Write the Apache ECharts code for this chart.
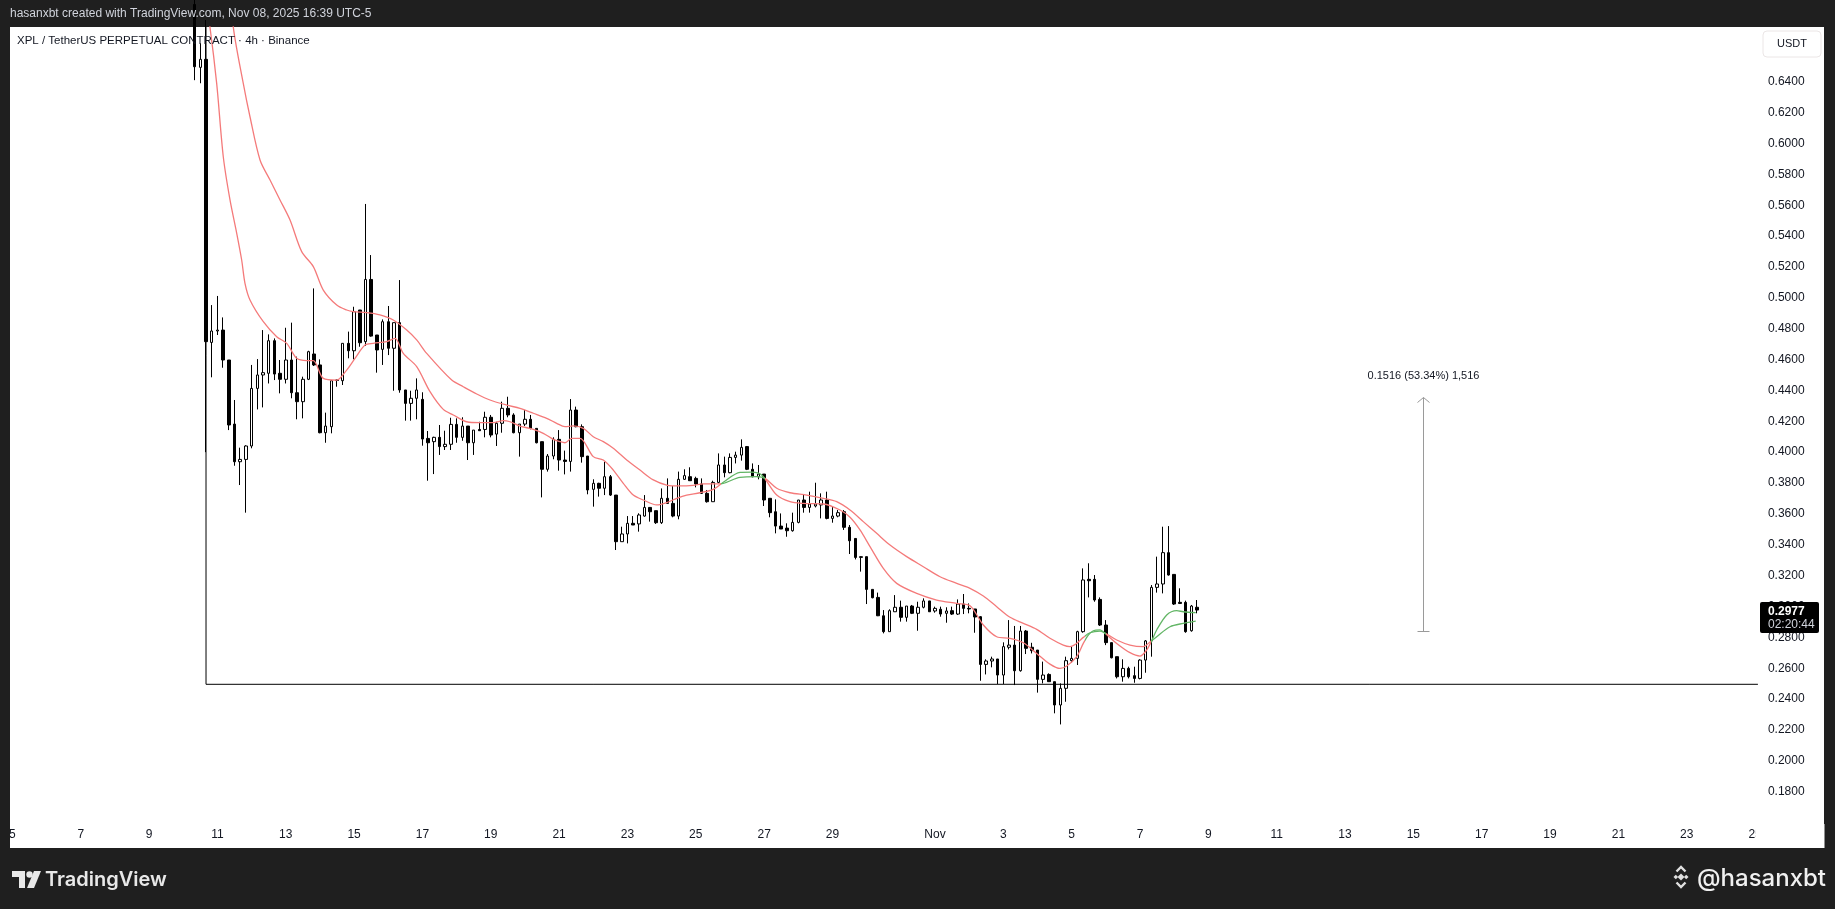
<!DOCTYPE html>
<html><head><meta charset="utf-8">
<script src="https://cdn.jsdelivr.net/npm/echarts@6/dist/echarts.min.js"></script>
<style>html,body{margin:0;padding:0;background:#1f1f1f;overflow:hidden}#c{width:1835px;height:909px}</style>
</head><body><div id="c"></div>
<script>
// ---- data ----
const firstSlot = 32;            // 4h slot index of the first visible candle (slot 0 = "Oct 5")
const opens = [0.6900,0.6493,0.6545,0.4711,0.4785,0.4791,0.4597,0.4182,0.3938,0.3953,0.4040,0.4413,0.4500,0.4511,0.4722,0.4511,0.4472,0.4597,0.4385,0.4327,0.4472,0.4636,0.4565,0.4126,0.4165,0.4467,0.4463,0.4705,0.4657,0.4921,0.4716,0.5119,0.4759,0.4666,0.4845,0.4673,0.4839,0.4403,0.4316,0.4349,0.4342,0.4089,0.4068,0.4096,0.4036,0.4051,0.4180,0.4096,0.4169,0.4061,0.4147,0.4147,0.4226,0.4117,0.4187,0.4284,0.4241,0.4126,0.4182,0.4213,0.4154,0.4068,0.3889,0.3975,0.4083,0.3949,0.3940,0.4273,0.4165,0.3975,0.3759,0.3798,0.3766,0.3841,0.3722,0.3420,0.3470,0.3539,0.3535,0.3586,0.3642,0.3621,0.3543,0.3701,0.3668,0.3586,0.3824,0.3841,0.3830,0.3794,0.3733,0.3679,0.3804,0.3917,0.3867,0.3966,0.3981,0.4036,0.3889,0.3841,0.3858,0.3701,0.3614,0.3521,0.3508,0.3491,0.3545,0.3690,0.3642,0.3651,0.3658,0.3690,0.3571,0.3586,0.3614,0.3513,0.3441,0.3318,0.3323,0.3111,0.3059,0.2940,0.2837,0.2966,0.2995,0.2930,0.3003,0.2956,0.2995,0.3036,0.2971,0.2982,0.2956,0.2973,0.2951,0.3016,0.2988,0.2984,0.2934,0.2625,0.2647,0.2660,0.2556,0.2736,0.2750,0.2584,0.2841,0.2736,0.2718,0.2528,0.2560,0.2513,0.2362,0.2470,0.2649,0.2664,0.2837,0.3176,0.3176,0.3046,0.2880,0.2766,0.2675,0.2545,0.2599,0.2552,0.2534,0.2653,0.2777,0.3124,0.3146,0.3349,0.3208,0.3027,0.3027,0.2843,0.2995];
const highs = [0.7000,0.6649,0.6800,0.4953,0.5012,0.4873,0.4597,0.4338,0.4029,0.4045,0.4565,0.4603,0.4791,0.4763,0.4737,0.4597,0.4806,0.4839,0.4619,0.4489,0.4657,0.5061,0.4601,0.4256,0.4467,0.4470,0.4705,0.4781,0.4942,0.4921,0.5608,0.5277,0.4759,0.4860,0.4947,0.4839,0.5115,0.4403,0.4398,0.4478,0.4388,0.4137,0.4100,0.4176,0.4139,0.4223,0.4219,0.4226,0.4169,0.4143,0.4197,0.4262,0.4241,0.4197,0.4327,0.4359,0.4252,0.4182,0.4273,0.4241,0.4154,0.4068,0.3988,0.4096,0.4143,0.4010,0.4344,0.4295,0.4180,0.3975,0.3824,0.3802,0.3938,0.3852,0.3722,0.3517,0.3586,0.3586,0.3604,0.3722,0.3642,0.3621,0.3765,0.3830,0.3781,0.3874,0.3889,0.3902,0.3841,0.3830,0.3755,0.3815,0.3992,0.3971,0.3992,0.4003,0.4083,0.4040,0.3927,0.3917,0.3858,0.3701,0.3694,0.3603,0.3539,0.3608,0.3690,0.3729,0.3744,0.3802,0.3733,0.3744,0.3651,0.3625,0.3625,0.3528,0.3441,0.3325,0.3323,0.3111,0.3090,0.2977,0.2982,0.3074,0.3038,0.3003,0.3010,0.3031,0.3053,0.3036,0.2999,0.2999,0.2995,0.2999,0.3046,0.3081,0.3020,0.2984,0.2938,0.2658,0.2675,0.2660,0.2768,0.2912,0.2874,0.2874,0.2848,0.2765,0.2718,0.2643,0.2567,0.2513,0.2502,0.2675,0.2740,0.2843,0.3247,0.3280,0.3204,0.3059,0.2912,0.2766,0.2675,0.2658,0.2610,0.2610,0.2658,0.2783,0.3139,0.3323,0.3517,0.3521,0.3208,0.3118,0.3038,0.3010,0.3042];
const lows = [0.6410,0.6390,0.4000,0.4485,0.4759,0.4547,0.4143,0.3912,0.3787,0.3608,0.4025,0.4277,0.4290,0.4445,0.4467,0.4381,0.4445,0.4349,0.4213,0.4219,0.4467,0.4558,0.4122,0.4061,0.4122,0.4424,0.4435,0.4608,0.4601,0.4683,0.4688,0.4748,0.4515,0.4565,0.4629,0.4398,0.4385,0.4204,0.4204,0.4213,0.4042,0.3815,0.3858,0.3982,0.4014,0.4014,0.4061,0.4074,0.3949,0.3982,0.4139,0.4096,0.4096,0.4040,0.4126,0.4226,0.4122,0.3971,0.4169,0.4148,0.4057,0.3707,0.3874,0.3954,0.3880,0.3856,0.3874,0.4161,0.3932,0.3727,0.3647,0.3712,0.3722,0.3716,0.3366,0.3420,0.3409,0.3528,0.3485,0.3582,0.3550,0.3535,0.3535,0.3664,0.3578,0.3565,0.3820,0.3815,0.3772,0.3729,0.3673,0.3679,0.3798,0.3837,0.3863,0.3927,0.3945,0.3884,0.3837,0.3824,0.3651,0.3578,0.3474,0.3502,0.3452,0.3485,0.3539,0.3608,0.3608,0.3642,0.3571,0.3565,0.3543,0.3578,0.3496,0.3340,0.3305,0.3226,0.3016,0.3053,0.2938,0.2826,0.2837,0.2966,0.2902,0.2902,0.2951,0.2843,0.2988,0.2966,0.2960,0.2934,0.2895,0.2945,0.2945,0.2951,0.2956,0.2830,0.2519,0.2560,0.2606,0.2498,0.2498,0.2722,0.2491,0.2578,0.2692,0.2696,0.2442,0.2502,0.2513,0.2308,0.2236,0.2383,0.2636,0.2621,0.2830,0.3059,0.3031,0.2874,0.2750,0.2664,0.2534,0.2513,0.2534,0.2506,0.2528,0.2571,0.2675,0.3090,0.3085,0.3200,0.3010,0.3016,0.2830,0.2837,0.2956];
const closes = [0.6497,0.6545,0.4716,0.4785,0.4791,0.4597,0.4176,0.3938,0.3953,0.4040,0.4413,0.4500,0.4515,0.4722,0.4506,0.4472,0.4597,0.4385,0.4327,0.4472,0.4651,0.4565,0.4126,0.4169,0.4463,0.4465,0.4705,0.4657,0.4910,0.4709,0.5119,0.4752,0.4662,0.4845,0.4673,0.4839,0.4403,0.4316,0.4349,0.4403,0.4085,0.4061,0.4096,0.4036,0.4051,0.4180,0.4096,0.4169,0.4061,0.4143,0.4139,0.4226,0.4111,0.4187,0.4284,0.4241,0.4126,0.4182,0.4213,0.4154,0.4061,0.3889,0.3975,0.4083,0.3949,0.3940,0.4273,0.4165,0.3971,0.3755,0.3798,0.3766,0.3841,0.3722,0.3420,0.3470,0.3539,0.3528,0.3593,0.3642,0.3614,0.3543,0.3701,0.3668,0.3586,0.3824,0.3848,0.3815,0.3794,0.3733,0.3679,0.3804,0.3917,0.3867,0.3966,0.3981,0.4031,0.3889,0.3841,0.3858,0.3690,0.3608,0.3521,0.3502,0.3491,0.3545,0.3690,0.3642,0.3664,0.3664,0.3690,0.3571,0.3586,0.3608,0.3513,0.3426,0.3318,0.3323,0.3111,0.3057,0.2940,0.2837,0.2973,0.2995,0.2930,0.3003,0.2956,0.2995,0.3036,0.2966,0.2988,0.2951,0.2971,0.2951,0.3016,0.2988,0.2984,0.2932,0.2625,0.2647,0.2660,0.2556,0.2740,0.2750,0.2584,0.2841,0.2729,0.2714,0.2528,0.2556,0.2513,0.2362,0.2470,0.2649,0.2664,0.2837,0.3172,0.3167,0.3042,0.2880,0.2766,0.2668,0.2545,0.2599,0.2545,0.2534,0.2653,0.2777,0.3124,0.3146,0.3349,0.3204,0.3016,0.3020,0.2837,0.3003,0.2977];

// moving-average ribbon, read as [slot, price] points
const fastEma = [[33.64,0.700],[34.69,0.6754],[35.87,0.6389],[37.03,0.5914],[38.21,0.5634],[39.39,0.5418],[40.26,0.5245],[40.84,0.5094],[41.72,0.4986],[44.06,0.4845],[46.41,0.4748],[48.17,0.4705],[49.92,0.4608],[51.68,0.4593],[52.84,0.4593],[54.59,0.4478],[56.95,0.4467],[58.70,0.4532],[60.16,0.4608],[61.92,0.4694],[63.37,0.4705],[65.72,0.4716],[67.18,0.4737],[68.64,0.4640],[70.99,0.4554],[73.33,0.4392],[75.66,0.4277],[77.42,0.4241],[79.77,0.4197],[82.11,0.4191],[84.44,0.4191],[86.20,0.4204],[87.37,0.4197],[89.13,0.4169],[91.47,0.4148],[93.22,0.4122],[94.98,0.4083],[96.15,0.4068],[97.03,0.4061],[98.21,0.4089],[99.67,0.4089],[102.00,0.3971],[103.76,0.3949],[105.51,0.3884],[107.27,0.3798],[109.02,0.3722],[110.78,0.3690],[113.13,0.3658],[114.89,0.3673],[116.65,0.3701],[118.40,0.3722],[120.74,0.3737],[123.07,0.3759],[124.83,0.3805],[127.76,0.3869],[129.82,0.3871],[131.57,0.3852],[134.21,0.3722],[136.54,0.3679],[138.88,0.3668],[142.39,0.3664],[145.32,0.3625],[147.08,0.3578],[148.83,0.3496],[150.59,0.3388],[152.93,0.3247],[155.28,0.3150],[158.79,0.3085],[162.30,0.3042],[165.82,0.3020],[168.15,0.3005],[170.49,0.2880],[172.84,0.2804],[175.18,0.2794],[177.51,0.2765],[179.86,0.2696],[182.19,0.2627],[183.95,0.2599],[185.13,0.2614],[186.88,0.2675],[188.04,0.2761],[188.92,0.2815],[189.80,0.2843],[190.98,0.2848],[191.85,0.2826],[193.91,0.2761],[196.24,0.2701],[198.00,0.2679],[199.17,0.2718],[200.05,0.2779],[200.93,0.2848],[202.69,0.2945],[204.44,0.2973],[205.60,0.2966],[207.78,0.2960]];
const slowEma = [[37.86,0.720],[38.79,0.6754],[40.54,0.6389],[41.72,0.6173],[43.48,0.5893],[45.24,0.5763],[46.99,0.5634],[48.75,0.5504],[50.80,0.5299],[52.84,0.5202],[54.59,0.5050],[56.95,0.4953],[58.70,0.4921],[59.86,0.4910],[62.21,0.4904],[64.54,0.4889],[66.88,0.4856],[69.24,0.4791],[70.99,0.4727],[72.75,0.4640],[77.14,0.4467],[79.17,0.4424],[81.53,0.4377],[83.86,0.4338],[86.80,0.4305],[89.13,0.4284],[91.47,0.4252],[93.82,0.4219],[95.57,0.4187],[97.03,0.4165],[98.49,0.4170],[100.25,0.4154],[102.00,0.4100],[103.76,0.4068],[105.51,0.4025],[107.87,0.3949],[110.20,0.3884],[112.54,0.3820],[114.89,0.3787],[117.22,0.3781],[119.56,0.3785],[121.32,0.3794],[123.07,0.3794],[124.83,0.3798],[127.76,0.3837],[130.70,0.3841],[132.15,0.3830],[134.21,0.3766],[136.54,0.3737],[139.47,0.3722],[142.39,0.3701],[144.74,0.3679],[147.08,0.3625],[149.41,0.3550],[151.76,0.3474],[154.10,0.3398],[157.03,0.3323],[159.95,0.3258],[162.89,0.3193],[165.82,0.3150],[168.15,0.3118],[170.49,0.3068],[172.84,0.2999],[175.18,0.2930],[177.51,0.2891],[179.86,0.2852],[182.19,0.2794],[184.53,0.2750],[185.70,0.2740],[186.88,0.2761],[188.04,0.2800],[189.22,0.2830],[190.98,0.2840],[192.15,0.2822],[193.91,0.2783],[196.24,0.2750],[198.58,0.2740],[199.75,0.2770],[200.93,0.2804],[203.27,0.2869],[205.60,0.2891],[207.78,0.2906]];
const greenRanges = [[124.4,132.2],[188.4,192.1],[199.9,400]];   // slots where the fast line is above the slow one

const slotCount = 307;
const tickSlots  = [0,12,24,36,48,60,72,84,96,108,120,132,144,162,174,186,198,210,222,234,246,258,270,282,294,306];
const tickLabels = ['5','7','9','11','13','15','17','19','21','23','25','27','29','Nov','3','5','7','9','11','13','15','17','19','21','23','25'];

const levelLine = [[34,0.6760],[34,0.2496],[306.5,0.2496]];
const measure = [[247.75,0.2842,0.4358]];
const measureLabel = '0.1516 (53.34%) 1,516';
const lastPrice = 0.2977;
const countdown = '02:20:44';

// ---- chart ----
const FONT = '"Liberation Sans", Arial, sans-serif';
const RED = '#f47a7a', GREEN = '#62b565', INK = '#131722';
const chart = echarts.init(document.getElementById('c'), null, {renderer:'canvas'});
const categories = Array.from({length: slotCount}, (_, i) => String(i));

const pieces = [];
let prev = -10;
greenRanges.forEach(([a,b]) => { pieces.push({gte: prev, lt: a, color: RED}); pieces.push({gte: a, lt: b, color: GREEN}); prev = b; });

const gridLeft = 9.55, slotW = 5.695;
chart.setOption({
  animation: false,
  backgroundColor: '#1f1f1f',
  title: { text: 'XPL / TetherUS PERPETUAL CONTRACT · 4h · Binance', left: 17, top: 35, padding: 0,
    textStyle: { fontSize: 11.5, fontWeight: 'normal', color: INK, fontFamily: FONT } },
  grid: { left: gridLeft, top: 27, width: slotCount * slotW, height: 795.6, containLabel: false, outerBoundsMode: 'none' },
  xAxis: [
    { type: 'category', data: categories, boundaryGap: true,
      axisLine: {show:false}, axisTick: {show:false}, splitLine: {show:false},
      axisLabel: { interval: (idx) => tickSlots.indexOf(idx) >= 0,
        formatter: (v) => { const k = tickSlots.indexOf(Number(v)); return k >= 0 ? tickLabels[k] : ''; },
        margin: 6, fontSize: 12, color: INK, fontFamily: FONT, hideOverlap: false } },
    { type: 'value', min: -0.5, max: slotCount - 0.5, show: false }
  ],
  yAxis: { type: 'value', position: 'right', min: 0.16, max: 0.67545, interval: 0.02,
    axisLine: {show:false}, axisTick: {show:false}, splitLine: {show:false},
    axisLabel: { margin: 10, fontSize: 12, color: INK, fontFamily: FONT,
      formatter: (v) => (v > 0.17 && v < 0.65) ? v.toFixed(4) : '' } },
  visualMap: { type: 'piecewise', show: false, dimension: 0, seriesIndex: [1,2], pieces: pieces, outOfRange: {color: RED} },
  graphic: { elements: [
    { type:'rect', z:-10, shape:{x:10,y:27,width:1814,height:821}, style:{fill:'#ffffff'} },
    { type:'text', z:5, style:{x:10,y:14,text:'hasanxbt created with TradingView.com, Nov 08, 2025 16:39 UTC-5', fill:'#d1d4dc', fontSize:12, fontFamily:FONT, verticalAlign:'middle'} },
    { type:'rect', zlevel:1, z:100, shape:{x:1755.5,y:824,width:69,height:24}, style:{fill:'#ffffff'} },
    { type:'rect', zlevel:1, z:100, shape:{x:0,y:27,width:10,height:821}, style:{fill:'#1f1f1f'} },
    { type:'rect', z:100, shape:{x:1763,y:31,width:58,height:26,r:4}, style:{fill:'#ffffff', stroke:'#ebe6e6', lineWidth:1} },
    { type:'text', z:101, style:{x:1792,y:44,text:'USDT', fill:INK, fontSize:11, fontFamily:FONT, align:'center', verticalAlign:'middle'} },
    // footer: TradingView logo
    { type:'polygon', z:5, shape:{points:[[12,871],[25,871],[25,888],[19,888],[19,877],[12,877]]}, style:{fill:'#e8e8e8'} },
    { type:'circle', z:5, shape:{cx:29.5,cy:874.5,r:3.2}, style:{fill:'#e8e8e8'} },
    { type:'polygon', z:5, shape:{points:[[34,871],[41,871],[34,888],[27,888]]}, style:{fill:'#e8e8e8'} },
    { type:'text', z:5, style:{x:45,y:879.5,text:'TradingView', fill:'#e8e8e8', fontSize:20, fontWeight:600, fontFamily:'Inter, "Liberation Sans", sans-serif', verticalAlign:'middle'} },
    // footer: author
    { type:'polygon', z:5, shape:{points:[[1681,873.5],[1684.5,877],[1681,880.5],[1677.5,877]]}, style:{fill:'#e0e0e0'} },
    { type:'polygon', z:5, shape:{points:[[1673.5,877],[1675.8,874.7],[1678.1,877],[1675.8,879.3]]}, style:{fill:'#e0e0e0'} },
    { type:'polygon', z:5, shape:{points:[[1683.9,877],[1686.2,874.7],[1688.5,877],[1686.2,879.3]]}, style:{fill:'#e0e0e0'} },
    { type:'polyline', z:5, shape:{points:[[1676.5,871.5],[1681,867],[1685.5,871.5]]}, style:{stroke:'#e0e0e0', lineWidth:2.4, fill:null} },
    { type:'polyline', z:5, shape:{points:[[1676.5,882.5],[1681,887],[1685.5,882.5]]}, style:{stroke:'#e0e0e0', lineWidth:2.4, fill:null} },
    { type:'text', z:5, style:{x:1826,y:879,text:'@hasanxbt', fill:'#f0f0f0', fontSize:24, fontWeight:500, fontFamily:'Inter, "Liberation Sans", sans-serif', align:'right', verticalAlign:'middle'} }
  ]},
  series: [
    { type: 'candlestick', xAxisIndex: 0, barWidth: 3,
      data: opens.map((o, k) => [firstSlot + k, o, closes[k], lows[k], highs[k]]),
      encode: { x: 0, y: [1,2,3,4] },
      itemStyle: { color: '#ffffff', color0: '#000000', borderColor: '#000000', borderColor0: '#000000', borderColorDoji: '#000000', borderWidth: 1 } },
    { type: 'line', xAxisIndex: 1, data: slowEma, showSymbol: false, smooth: 0.3, lineStyle: { width: 1.3 }, z: 3 },
    { type: 'line', xAxisIndex: 1, data: fastEma, showSymbol: false, smooth: 0.3, lineStyle: { width: 1.3 }, z: 3 },
    { type: 'line', xAxisIndex: 1, data: levelLine, showSymbol: false, lineStyle: { color: '#000000', width: 1 }, itemStyle:{color:'#000'}, z: 4 },
    { type: 'custom', xAxisIndex: 1, data: measure, encode: { x: 0, y: [1,2] }, z: 5,
      renderItem: (params, api) => {
        const p0 = api.coord([api.value(0), api.value(1)]);
        const p1 = api.coord([api.value(0), api.value(2)]);
        const x = Math.round(p0[0]) + 0.5, yb = Math.round(p0[1]) + 0.5, yt = Math.round(p1[1]) + 0.5;
        const st = { stroke: '#9a9a9a', lineWidth: 1, fill: null };
        return { type: 'group', children: [
          { type: 'line', shape: { x1: x, y1: yb, x2: x, y2: yt }, style: st },
          { type: 'line', shape: { x1: x - 6, y1: yb, x2: x + 6, y2: yb }, style: st },
          { type: 'polyline', shape: { points: [[x - 6, yt + 5], [x, yt], [x + 6, yt + 5]] }, style: st },
          { type: 'text', style: { x: x, y: yt - 22, text: measureLabel, align: 'center', verticalAlign: 'middle', fill: INK, fontSize: 11, fontFamily: FONT } }
        ]};
      } },
    { type: 'custom', xAxisIndex: 1, data: [[slotCount - 0.5, lastPrice]], encode: { x: 0, y: 1 }, clip: false, z: 6,
      renderItem: (params, api) => {
        const p = api.coord([api.value(0), api.value(1)]);
        const x = Math.round(p[0]), y = p[1];
        return { type: 'group', children: [
          { type: 'rect', shape: { x: x + 2, y: y - 8, width: 59, height: 31, r: 2 }, style: { fill: '#000000' } },
          { type: 'text', style: { x: x + 10, y: y + 1.5, text: lastPrice.toFixed(4), fill: '#ffffff', fontSize: 12, fontWeight: 'bold', fontFamily: FONT, verticalAlign: 'middle' } },
          { type: 'text', style: { x: x + 10, y: y + 15, text: countdown, fill: '#d1d4dc', fontSize: 12, fontFamily: FONT, verticalAlign: 'middle' } }
        ]};
      } }
  ]
});
</script></body></html>
